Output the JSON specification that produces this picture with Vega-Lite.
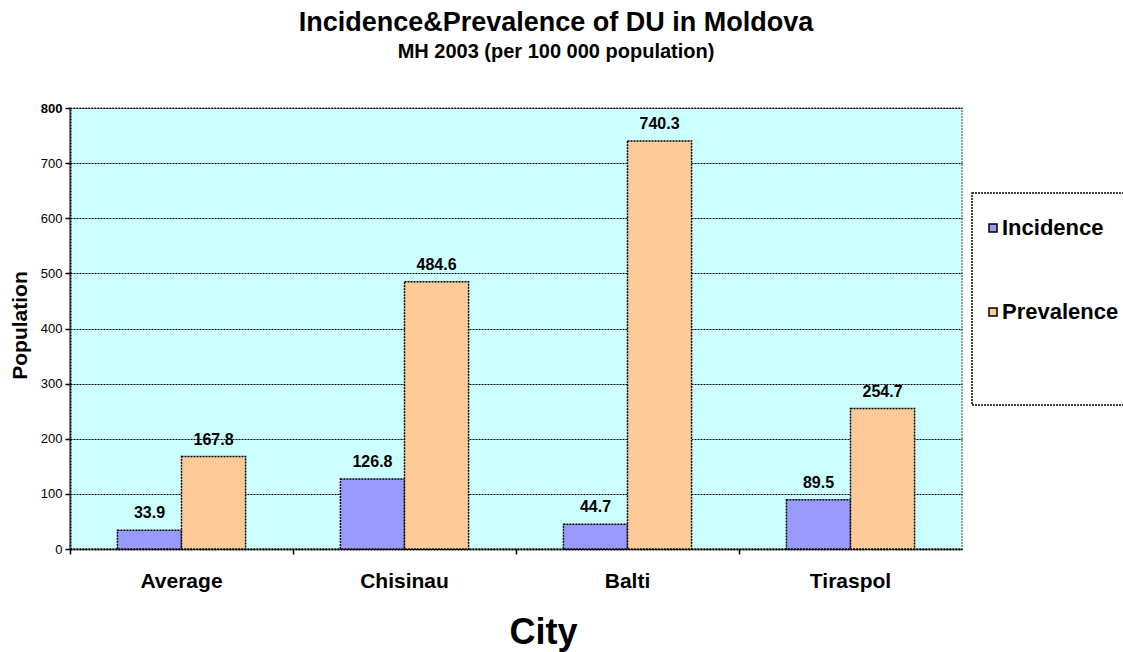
{
  "$schema": "https://vega.github.io/schema/vega-lite/v6.json",
  "autosize": {"type": "none"},
  "padding": {"left": 70, "top": 108, "right": 161, "bottom": 103},
  "width": 892,
  "height": 441,
  "background": "white",
  "title": {
    "text": "Incidence&Prevalence of DU in Moldova",
    "subtitle": "MH 2003 (per 100 000 population)",
    "anchor": "middle",
    "frame": "group",
    "dx": 40,
    "offset": 39,
    "font": "Liberation Sans",
    "fontSize": 27,
    "fontWeight": "bold",
    "color": "black",
    "subtitleFont": "Liberation Sans",
    "subtitleFontSize": 20,
    "subtitleFontWeight": "bold",
    "subtitleColor": "black",
    "subtitlePadding": 5
  },
  "config": {
    "view": {"fill": "#CCFFFF", "stroke": "#808080", "strokeDash": [2, 1], "strokeWidth": 1.5},
    "font": "Liberation Sans",
    "legend": {"strokeWidth": 1.5, "strokeDash": [2, 1], "strokeColor": "black", "fillColor": "white"}
  },
  "data": {
    "values": [
      {"city": "Average", "measure": "Incidence", "value": 33.9},
      {"city": "Average", "measure": "Prevalence", "value": 167.8},
      {"city": "Chisinau", "measure": "Incidence", "value": 126.8},
      {"city": "Chisinau", "measure": "Prevalence", "value": 484.6},
      {"city": "Balti", "measure": "Incidence", "value": 44.7},
      {"city": "Balti", "measure": "Prevalence", "value": 740.3},
      {"city": "Tiraspol", "measure": "Incidence", "value": 89.5},
      {"city": "Tiraspol", "measure": "Prevalence", "value": 254.7}
    ]
  },
  "encoding": {
    "x": {
      "field": "city",
      "type": "nominal",
      "sort": ["Average", "Chisinau", "Balti", "Tiraspol"],
      "scale": {"paddingInner": 0, "paddingOuter": 0},
      "axis": {
        "title": "City",
        "titleFontSize": 36,
        "titleFontWeight": "bold",
        "titleColor": "black",
        "titlePadding": 24,
        "titleX": 473,
        "labelAngle": 0,
        "labelFontSize": 21,
        "labelFontWeight": "bold",
        "labelColor": "black",
        "labelPadding": 16,
        "domain": true,
        "domainColor": "black",
        "domainDash": [2, 1],
        "domainWidth": 2,
        "ticks": true,
        "tickColor": "black",
        "tickSize": 5,
        "tickWidth": 1.5,
        "bandPosition": 0
      }
    },
    "xOffset": {
      "field": "measure",
      "type": "nominal",
      "scale": {"paddingInner": 0, "paddingOuter": 0.74}
    },
    "y": {
      "field": "value",
      "type": "quantitative",
      "scale": {"domain": [0, 800], "nice": false},
      "axis": {
        "title": "Population",
        "titleFontSize": 21,
        "titleFontWeight": "bold",
        "titleColor": "black",
        "titleX": -40,
        "titleY": 217,
        "values": [0, 100, 200, 300, 400, 500, 600, 700, 800],
        "labelFontSize": 13,
        "labelFontWeight": {"condition": {"test": "datum.value === 800", "value": "bold"}, "value": "normal"},
        "labelColor": "black",
        "labelPadding": 3,
        "tickColor": "black",
        "tickSize": 5,
        "tickWidth": 1.5,
        "domain": true,
        "domainColor": "black",
        "domainDash": [2, 1],
        "domainWidth": 2,
        "grid": true,
        "gridColor": "black",
        "gridDash": [2, 1],
        "gridWidth": 1.2,
        "gridOpacity": 1
      }
    }
  },
  "layer": [
    {
      "mark": {"type": "bar", "stroke": "black", "strokeDash": [2, 1], "strokeWidth": 1.5},
      "encoding": {
        "color": {
          "field": "measure",
          "type": "nominal",
          "scale": {"domain": ["Incidence", "Prevalence"], "range": ["#9999FF", "#FFCC99"]},
          "legend": {
            "title": " ",
            "titleOrient": "bottom",
            "titleFontSize": 20,
            "titlePadding": 38,
            "orient": "none",
            "legendX": 902,
            "legendY": 85,
            "symbolType": "square",
            "symbolSize": 64,
            "symbolOffset": -14,
            "symbolStrokeColor": "black",
            "symbolStrokeWidth": 1.5,
            "symbolOpacity": 1,
            "labelFontSize": 22,
            "labelFontWeight": "bold",
            "labelColor": "black",
            "labelOffset": -2,
            "rowPadding": 62,
            "padding": 24,
            "labelLimit": 200
          }
        }
      }
    },
    {
      "mark": {"type": "text", "dy": -12, "fontSize": 16, "fontWeight": "bold", "color": "black", "baseline": "alphabetic"},
      "encoding": {
        "text": {"field": "value", "type": "quantitative", "format": ".1f"}
      }
    }
  ]
}
